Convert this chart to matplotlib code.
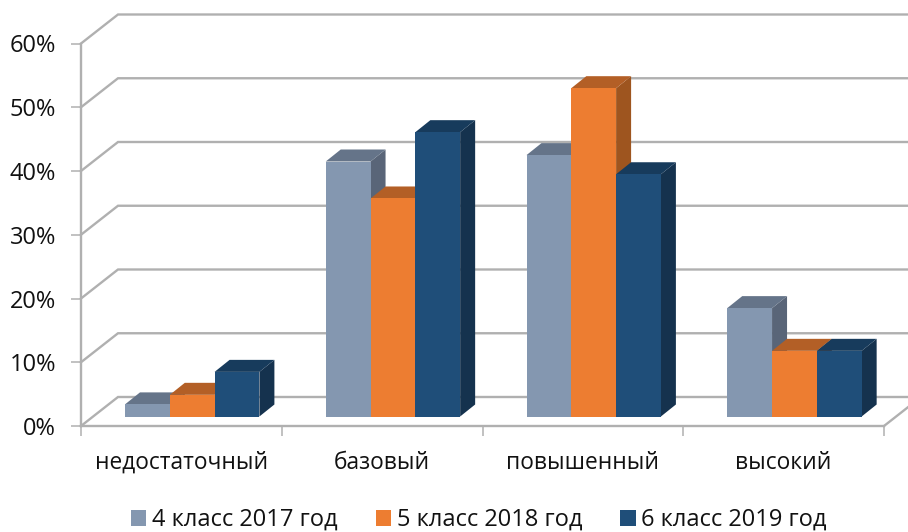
import matplotlib
matplotlib.use("Agg")
import matplotlib.pyplot as plt
from matplotlib.patches import Polygon, Patch

plt.rcParams['font.family'] = ['Open Sans', 'DejaVu Sans']

categories = ["недостаточный", "базовый", "повышенный", "высокий"]
series_names = ["4 класс 2017 год", "5 класс 2018 год", "6 класс 2019 год"]
grade4 = [1.9, 40, 41, 17]
grade5 = [3.4, 34.2, 51.5, 10.3]
grade6 = [7, 44.6, 38, 10.3]
y_ticks = [0, 10, 20, 30, 40, 50, 60]

front = ["#8497B0", "#ED7D31", "#1F4E79"]
top = ["#657489", "#B35F26", "#173B5C"]
side = ["#596578", "#9E551F", "#15324E"]
grid_col = "#B0B0B0"

W, H = 908, 532
fig = plt.figure(figsize=(W / 100, H / 100), dpi=100)
ax = fig.add_axes([81 / W, (H - 426) / H, (884 - 81) / W, (426 - 43.5) / H])
ax.set_xlim(0, 4)
ax.set_ylim(0, 60)

# depth of the fake 3d box, in data units
wall_dx = 37 / 200.75
wall_dy = 29 / 6.375
bar_dx = 15 / 200.75
bar_dy = 12 / 6.375
base_y = 9.5 / 6.375
start = 44 / 200.75
bar_w = 44.8 / 200.75

for t in y_ticks:
    ax.plot([0, wall_dx, 4.2], [t, t + wall_dy, t + wall_dy], color=grid_col, lw=1.7,
            clip_on=False, zorder=1, solid_joinstyle="miter")
ax.plot([4, 4 + wall_dx], [0, wall_dy], color=grid_col, lw=1.7, clip_on=False, zorder=1)

for i in range(len(categories)):
    values = [grade4[i], grade5[i], grade6[i]]
    for j, v in enumerate(values):
        x0 = i + start + j * bar_w
        x1 = x0 + bar_w
        y0 = base_y
        y1 = base_y + v
        z = 3 + i * 3 + j
        ax.add_patch(Polygon([(x1, y0), (x1 + bar_dx, y0 + bar_dy), (x1 + bar_dx, y1 + bar_dy), (x1, y1)],
                             fc=side[j], ec="none", clip_on=False, zorder=z))
        ax.add_patch(Polygon([(x0, y1), (x0 + bar_dx, y1 + bar_dy), (x1 + bar_dx, y1 + bar_dy), (x1, y1)],
                             fc=top[j], ec="none", clip_on=False, zorder=z))
        ax.add_patch(Polygon([(x0, y0), (x1, y0), (x1, y1), (x0, y1)],
                             fc=front[j], ec="none", clip_on=False, zorder=z))

for s in ["top", "right"]:
    ax.spines[s].set_visible(False)
for s in ["left", "bottom"]:
    ax.spines[s].set_color(grid_col)
    ax.spines[s].set_linewidth(1.7)

ax.set_yticks(y_ticks)
ax.set_yticklabels([f"{t}%" for t in y_ticks], fontsize=17, color="#111111")
ax.tick_params(axis="y", length=7, width=1.1, color=grid_col, pad=11)
ax.set_xticks([0, 1, 2, 3, 4])
ax.set_xticklabels([])
ax.set_xticks([0.5, 1.5, 2.5, 3.5], minor=True)
ax.set_xticklabels(categories, minor=True, fontsize=16.4, color="#111111")
ax.tick_params(axis="x", which="major", length=7, width=1.1, color=grid_col)
ax.tick_params(axis="x", which="minor", length=0, pad=18)

handles = [Patch(fc=c, ec="none") for c in front]
ax.legend(handles, series_names, loc="center", bbox_to_anchor=(479 / W, (H - 520) / H),
          bbox_transform=fig.transFigure, ncol=3, frameon=False, fontsize=17,
          handlelength=0.65, handleheight=0.65, handletextpad=0.25, columnspacing=1.6,
          labelcolor="#111111", borderpad=0)

fig.savefig("out.png", dpi=100)
